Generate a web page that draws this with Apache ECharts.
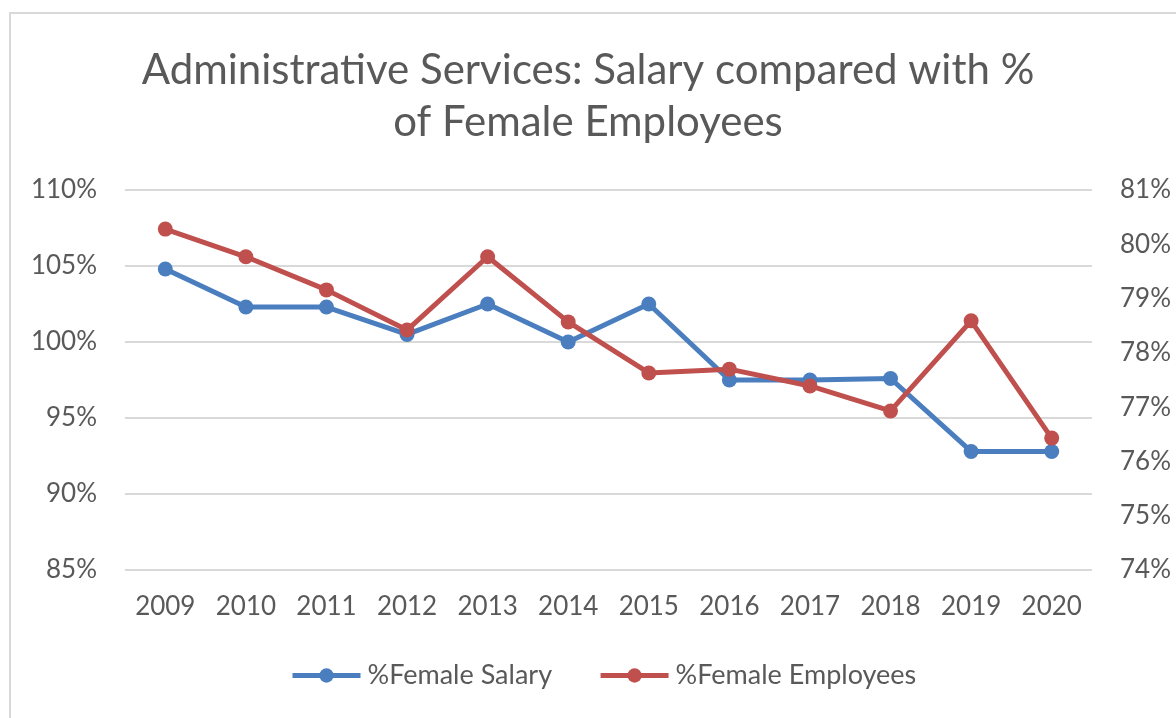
<!DOCTYPE html>
<html>
<head>
<meta charset="utf-8">
<script src="https://cdn.jsdelivr.net/npm/echarts@6/dist/echarts.min.js"></script>
<style>
  html, body { margin: 0; padding: 0; background: #fff; }
  #frame {
    position: absolute; left: 9px; top: 12px;
    width: 1200px; height: 740px;
    border: 2px solid #d9d9d9; box-sizing: border-box;
  }
  #chart { position: absolute; left: 0; top: 0; width: 1176px; height: 718px; }
</style>
</head>
<body>
<div id="frame"></div>
<div id="chart"></div>
<script>
// years on the x axis
var years = ['2009', '2010', '2011', '2012', '2013', '2014', '2015', '2016', '2017', '2018', '2019', '2020'];
// % female salary (left axis, percent)
var femaleSalary = [104.8, 102.3, 102.3, 100.5, 102.5, 100.0, 102.5, 97.5, 97.5, 97.6, 92.8, 92.8];
// % female employees (right axis, percent)
var femaleEmployees = [80.28, 79.77, 79.16, 78.42, 79.77, 78.57, 77.63, 77.70, 77.39, 76.93, 78.59, 76.43];

var titleText = 'Administrative Services: Salary compared with %\nof Female Employees';
var seriesNames = ['%Female Salary', '%Female Employees'];

var chart = echarts.init(document.getElementById('chart'));
var font = 'Lato, "Open Sans", sans-serif';
var grey = '#595959';

var option = {
  animation: false,
  title: {
    text: titleText,
    left: 'center',
    top: 39,
    textStyle: {
      fontFamily: font,
      fontSize: 42,
      fontWeight: 'normal',
      lineHeight: 52,
      color: grey
    }
  },
  grid: {
    left: 125,
    right: 84,
    top: 190,
    bottom: 148
  },
  legend: {
    bottom: 24,
    left: 285,
    itemWidth: 68,
    itemHeight: 18,
    itemGap: 46,
    lineStyle: { width: 5 },
    textStyle: { fontFamily: font, fontSize: 27, color: grey, padding: [0, 0, 0, 2] },
    data: seriesNames
  },
  xAxis: {
    type: 'category',
    data: years,
    axisLine: { show: false },
    axisTick: { show: false },
    axisLabel: { fontFamily: font, fontSize: 26, color: grey, margin: 24 }
  },
  yAxis: [
    {
      type: 'value',
      min: 85,
      max: 110,
      interval: 5,
      axisLine: { show: false },
      axisTick: { show: false },
      axisLabel: { fontFamily: font, fontSize: 26, color: grey, margin: 28, formatter: '{value}%' },
      splitLine: { lineStyle: { color: '#d9d9d9', width: 2 } }
    },
    {
      type: 'value',
      min: 74,
      max: 81,
      interval: 1,
      axisLine: { show: false },
      axisTick: { show: false },
      axisLabel: { fontFamily: font, fontSize: 26, color: grey, margin: 28, formatter: '{value}%' },
      splitLine: { show: false }
    }
  ],
  series: [
    {
      name: seriesNames[0],
      type: 'line',
      yAxisIndex: 0,
      data: femaleSalary,
      symbol: 'circle',
      symbolSize: 15,
      lineStyle: { width: 5, color: '#4a7ebf' },
      itemStyle: { color: '#4a7ebf' }
    },
    {
      name: seriesNames[1],
      type: 'line',
      yAxisIndex: 1,
      data: femaleEmployees,
      symbol: 'circle',
      symbolSize: 15,
      lineStyle: { width: 5, color: '#c0504d' },
      itemStyle: { color: '#c0504d' }
    }
  ]
};

chart.setOption(option);
</script>
</body>
</html>
